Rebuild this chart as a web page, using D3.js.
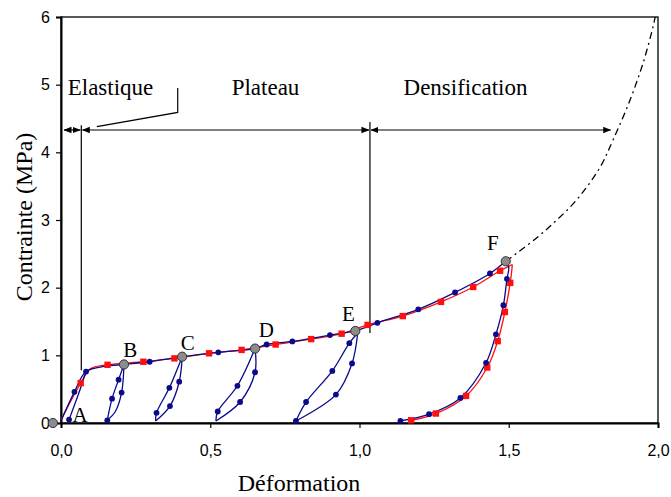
<!DOCTYPE html>
<html><head><meta charset="utf-8">
<script src="https://cdn.jsdelivr.net/npm/d3@7"></script>
<style>
body{margin:0;background:#fff;}
svg{display:block;}
</style></head>
<body>
<svg id="chart" width="671" height="497"></svg>
<script>
// ---- data (x = strain, y = stress MPa); third value: 1 = marker drawn ----
const xTickValues = [0, 0.5, 1, 1.5, 2];
const xTickLabels = ["0,0", "0,5", "1,0", "1,5", "2,0"];
const yTickValues = [0, 1, 2, 3, 4, 5, 6];
const yTickLabels = ["0", "1", "2", "3", "4", "5", "6"];

const blueLoad = [[0.0,0.03,0],[0.045,0.46,1],[0.084,0.76,1],[0.15,0.84,0],[0.211,0.865,0],[0.297,0.905,1],[0.406,0.98,0],[0.527,1.045,1],[0.65,1.10,0],[0.689,1.16,1],[0.775,1.205,1],[0.901,1.30,1],[0.986,1.36,0],[1.06,1.48,1],[1.197,1.68,1],[1.32,1.93,1],[1.437,2.21,1],[1.49,2.39,0]];
const blueUnloadF = [[1.49,2.39,0],[1.50,2.30,0],[1.494,2.13,1],[1.482,1.74,1],[1.457,1.31,1],[1.424,0.89,1],[1.338,0.37,1],[1.233,0.13,1],[1.137,0.03,1]];
const redLoad = [[0.0,0.05,0],[0.066,0.59,1],[0.098,0.80,0],[0.156,0.86,1],[0.276,0.905,1],[0.38,0.955,1],[0.496,1.03,1],[0.605,1.08,1],[0.719,1.16,1],[0.838,1.24,1],[0.94,1.32,1],[1.027,1.45,1],[1.145,1.58,1],[1.273,1.79,1],[1.381,2.01,1],[1.471,2.25,1],[1.512,2.34,0]];
const redUnload = [[1.512,2.34,0],[1.505,2.07,1],[1.487,1.64,1],[1.463,1.21,1],[1.428,0.82,1],[1.357,0.40,1],[1.256,0.14,1],[1.173,0.04,1]];
const loopA = [[0.084,0.76,0],[0.058,0.42,0],[0.027,0.05,1]];
const loopBReload = [[0.155,0.04,1],[0.171,0.36,1],[0.193,0.64,1],[0.211,0.865,0]];
const loopBUnload = [[0.211,0.865,0],[0.203,0.45,1],[0.182,0.17,0],[0.155,0.04,0]];
const loopCReload = [[0.317,0.03,0],[0.32,0.15,1],[0.363,0.52,1],[0.406,0.98,0]];
const loopCUnload = [[0.406,0.98,0],[0.396,0.61,1],[0.365,0.25,1],[0.317,0.03,0]];
const loopDReload = [[0.519,0.03,0],[0.525,0.17,1],[0.591,0.55,1],[0.65,1.10,0]];
const loopDUnload = [[0.65,1.10,0],[0.65,0.75,1],[0.60,0.31,1],[0.519,0.03,0]];
const loopEReload = [[0.787,0.03,1],[0.821,0.31,1],[0.909,0.77,1],[0.966,1.18,1],[0.994,1.33,0]];
const loopEUnload = [[0.994,1.33,0],[0.975,0.88,1],[0.921,0.42,1],[0.787,0.03,0]];
const extrapolation = [[1.49,2.39],[1.527,2.51],[1.60,2.76],[1.661,3.0],[1.728,3.30],[1.806,3.78],[1.849,4.18],[1.906,4.77],[1.950,5.32],[1.983,5.85],[1.995,6.1]];
const pointNames = ["A","B","C","D","E","F"];
const pointX = [-0.027, 0.211, 0.406, 0.65, 0.986, 1.49];
const pointY = [0, 0.865, 0.98, 1.10, 1.36, 2.39];
const labelX = [0.064, 0.232, 0.425, 0.688, 0.963, 1.447];
const labelY = [0.02, 0.98, 1.08, 1.27, 1.51, 2.55];
const regionNames = ["Elastique", "Plateau", "Densification"];
const regionBounds = [0.0, 0.068, 1.035, 1.845];
const regionArrowY = 4.33;

// ---- layout ----
const svg = d3.select("#chart");
const x = d3.scaleLinear().domain([0, 2]).range([61, 658]);
const y = d3.scaleLinear().domain([0, 6]).range([423, 17]);
const BLUE = "#0a0a8a", RED = "#ff1010";
const serif = "'Liberation Serif', 'Times New Roman', serif";
const sans = "'Liberation Sans', Arial, sans-serif";

const defs = svg.append("defs");
defs.append("clipPath").attr("id","plotclip").append("rect")
  .attr("x", x(0)).attr("y", y(6)).attr("width", x(2)-x(0)).attr("height", y(0)-y(6));
["start","end"].forEach(k => {
  defs.append("marker").attr("id","arr-"+k)
    .attr("markerUnits","userSpaceOnUse").attr("markerWidth",8).attr("markerHeight",8)
    .attr("viewBox","0 -4 8 8").attr("refX", 7.5).attr("refY",0)
    .attr("orient", k === "start" ? "auto-start-reverse" : "auto")
    .append("path").attr("d","M0,-3.2L8,0L0,3.2Z").attr("fill","#000");
});

// frame
svg.append("rect").attr("x", x(0)).attr("y", y(6)).attr("width", x(2)-x(0)).attr("height", y(0)-y(6))
  .attr("fill","none").attr("stroke","#000").attr("stroke-width",1.3);

// axes
const xAxis = d3.axisBottom(x).tickValues(xTickValues).tickSize(5).tickPadding(17)
  .tickFormat((d,i) => xTickLabels[i]);
const yAxis = d3.axisLeft(y).tickValues(yTickValues).tickSize(5).tickPadding(6)
  .tickFormat((d,i) => yTickLabels[i]);
const gx = svg.append("g").attr("transform", `translate(0,${y(0)})`).call(xAxis);
const gy = svg.append("g").attr("transform", `translate(${x(0)},0)`).call(yAxis);
[gx, gy].forEach(g => {
  g.select(".domain").attr("stroke","#000").attr("stroke-width",2);
  g.selectAll(".tick line").attr("stroke","#000").attr("stroke-width",1.2);
  g.selectAll(".tick text").attr("fill","#000").style("font-family", sans).style("font-size","16px");
});

// axis titles
svg.append("text").attr("x", 299).attr("y", 491).attr("text-anchor","middle")
  .style("font-family", serif).style("font-size","24px").text("Déformation");
svg.append("text").attr("transform","translate(32,217) rotate(-90)").attr("text-anchor","middle")
  .style("font-family", serif).style("font-size","24px").text("Contrainte (MPa)");

// extrapolated curve (dash-dot)
const lineXY = d3.line().x(d => x(d[0])).y(d => y(d[1])).curve(d3.curveCatmullRom.alpha(0.5));
svg.append("path").attr("d", lineXY(extrapolation)).attr("clip-path","url(#plotclip)")
  .attr("fill","none").attr("stroke","#000").attr("stroke-width",1.3)
  .attr("stroke-dasharray","7,4,2,4");

// region annotations
const arrowY = y(regionArrowY);
for (let i = 0; i < 3; i++) {
  svg.append("line").attr("x1", x(regionBounds[i]) + (i === 0 ? 3 : 1)).attr("x2", x(regionBounds[i+1]) - 1)
    .attr("y1", arrowY).attr("y2", arrowY).attr("stroke","#000").attr("stroke-width",1.2)
    .attr("marker-start","url(#arr-start)").attr("marker-end","url(#arr-end)");
}
svg.append("line").attr("x1", x(regionBounds[1])).attr("x2", x(regionBounds[1]))
  .attr("y1", y(4.40)).attr("y2", y(0.78)).attr("stroke","#000").attr("stroke-width",1.2);
svg.append("line").attr("x1", x(regionBounds[2])).attr("x2", x(regionBounds[2]))
  .attr("y1", y(4.45)).attr("y2", y(1.33)).attr("stroke","#000").attr("stroke-width",1.2);
svg.append("path").attr("d", d3.line().x(d => x(d[0])).y(d => y(d[1]))([[0.12,4.38],[0.391,4.59],[0.391,4.95]]))
  .attr("fill","none").attr("stroke","#000").attr("stroke-width",1.2);
const regionLabelX = [110.5, 265.5, 465.5];
regionNames.forEach((n, i) => {
  svg.append("text").attr("x", regionLabelX[i]).attr("y", y(4.845)).attr("text-anchor","middle")
    .style("font-family", serif).style("font-size","23px").text(n);
});

// curves
function drawCurve(data, color) {
  svg.append("path").attr("d", lineXY(data)).attr("fill","none")
    .attr("stroke", color).attr("stroke-width",1.3);
}
function drawMarkers(data, color, marker) {
  const pts = data.filter(d => d[2] === 1);
  if (marker === "square") {
    svg.append("g").selectAll("rect").data(pts).join("rect")
      .attr("x", d => x(d[0]) - 3.2).attr("y", d => y(d[1]) - 3.2)
      .attr("width", 6.4).attr("height", 6.4).attr("fill", color);
  } else {
    svg.append("g").selectAll("circle").data(pts).join("circle")
      .attr("cx", d => x(d[0])).attr("cy", d => y(d[1])).attr("r", 2.9).attr("fill", color);
  }
}
const reds = [redLoad, redUnload];
const blues = [blueLoad, blueUnloadF, loopA, loopBReload, loopBUnload, loopCReload, loopCUnload,
  loopDReload, loopDUnload, loopEReload, loopEUnload];
reds.forEach(d => drawCurve(d, RED));
blues.forEach(d => drawCurve(d, BLUE));
reds.forEach(d => drawMarkers(d, RED, "square"));
blues.forEach(d => drawMarkers(d, BLUE, "circle"));

// named points
svg.append("g").selectAll("circle").data(pointNames).join("circle")
  .attr("cx", (d,i) => x(pointX[i])).attr("cy", (d,i) => y(pointY[i])).attr("r", 4.6)
  .attr("fill","#8c8c8c").attr("stroke","#333").attr("stroke-width",1);
svg.append("g").selectAll("text").data(pointNames).join("text")
  .attr("x", (d,i) => x(labelX[i])).attr("y", (d,i) => y(labelY[i])).attr("text-anchor","middle")
  .style("font-family", serif).style("font-size","21px").text(d => d);
</script>
</body></html>
